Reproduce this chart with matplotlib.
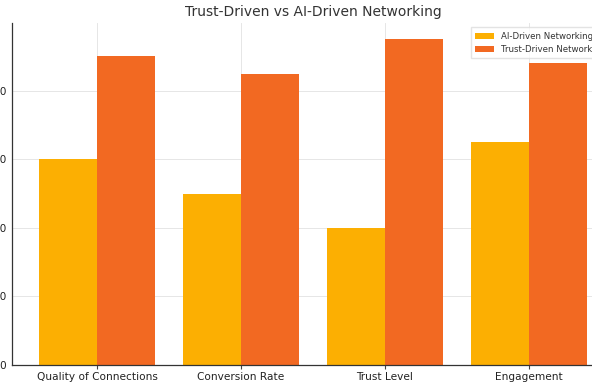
import matplotlib
matplotlib.use("Agg")
import matplotlib.pyplot as plt
import numpy as np

categories = ["Quality of Connections", "Conversion Rate", "Trust Level", "Engagement"]
ai_driven = [60, 50, 40, 65]
trust_driven = [90, 85, 95, 88]
series_labels = ["AI-Driven Networking", "Trust-Driven Networking"]

W, H = 592, 384
fig = plt.figure(figsize=(W / 100, H / 100), dpi=100)
ax = fig.add_axes([12 / W, (384 - 365) / H, 602 / W, (365 - 23) / H])

x = np.arange(len(categories))
w = 0.4
ax.bar(x - w / 2, ai_driven, w, color="#FCAF02", label=series_labels[0], zorder=2)
ax.bar(x + w / 2, trust_driven, w, color="#F26922", label=series_labels[1], zorder=2)

ax.set_xticks(x)
ax.set_xticklabels(categories, fontsize=7.6, color="#222222")
ax.tick_params(axis="y", labelsize=7.6, colors="#222222", length=0, pad=4)
ax.tick_params(axis="x", length=3, width=0.8, color="#444444", pad=2)
ax.set_yticks([0, 20, 40, 60, 80])
ax.set_ylim(0, 99.75)

ax.grid(True, color="#e6e6e6", linewidth=0.7, zorder=0)
ax.set_axisbelow(True)
for s in ["top", "right"]:
    ax.spines[s].set_visible(False)
for s in ["left", "bottom"]:
    ax.spines[s].set_color("#333333")
    ax.spines[s].set_linewidth(0.9)

ax.set_title("Trust-Driven vs AI-Driven Networking", fontsize=10, color="#333333", pad=5)
leg = ax.legend(loc="upper right", fontsize=6.2, frameon=True, fancybox=False,
                edgecolor="#dddddd", handlelength=2.2, borderpad=0.5)
for t in leg.get_texts():
    t.set_color("#333333")

fig.savefig("out.png", dpi=100)
